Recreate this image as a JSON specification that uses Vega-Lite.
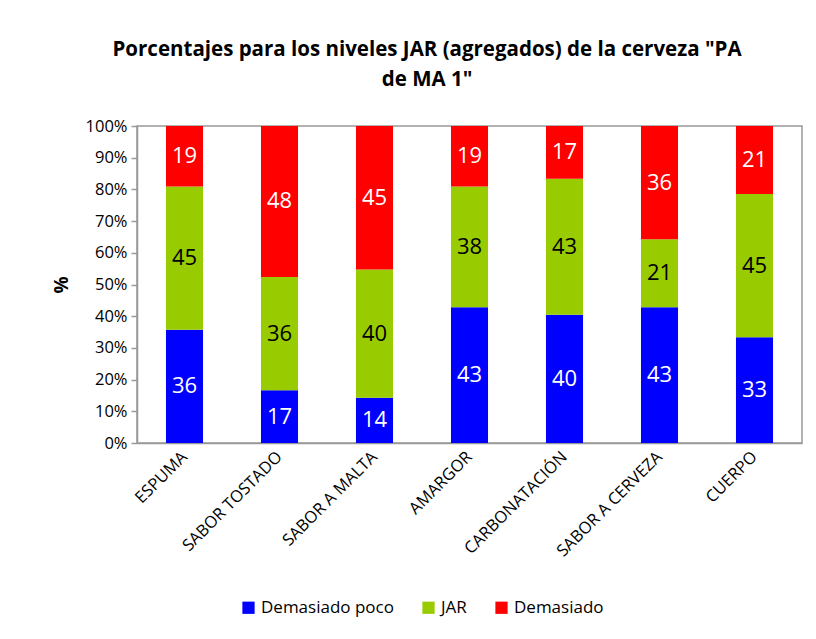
{
  "$schema": "https://vega.github.io/schema/vega-lite/v6.json",
  "width": 665,
  "height": 317,
  "autosize": {"type": "none"},
  "padding": {"left": 137, "top": 126, "right": 14, "bottom": 196},
  "background": "white",
  "title": {
    "text": ["Porcentajes para los niveles JAR (agregados) de la cerveza \"PA", "de MA 1\""],
    "font": "Open Sans",
    "fontSize": 20.5,
    "fontWeight": "bold",
    "color": "#000000",
    "anchor": "middle",
    "frame": "bounds",
    "lineHeight": 30,
    "offset": 28
  },
  "data": {
    "values": [
      {"attr": "ESPUMA", "cat": "Demasiado poco", "k": 1, "pct": 35.71},
      {"attr": "ESPUMA", "cat": "JAR", "k": 2, "pct": 45.24},
      {"attr": "ESPUMA", "cat": "Demasiado", "k": 3, "pct": 19.05},
      {"attr": "SABOR TOSTADO", "cat": "Demasiado poco", "k": 1, "pct": 16.67},
      {"attr": "SABOR TOSTADO", "cat": "JAR", "k": 2, "pct": 35.71},
      {"attr": "SABOR TOSTADO", "cat": "Demasiado", "k": 3, "pct": 47.62},
      {"attr": "SABOR A MALTA", "cat": "Demasiado poco", "k": 1, "pct": 14.29},
      {"attr": "SABOR A MALTA", "cat": "JAR", "k": 2, "pct": 40.48},
      {"attr": "SABOR A MALTA", "cat": "Demasiado", "k": 3, "pct": 45.24},
      {"attr": "AMARGOR", "cat": "Demasiado poco", "k": 1, "pct": 42.86},
      {"attr": "AMARGOR", "cat": "JAR", "k": 2, "pct": 38.1},
      {"attr": "AMARGOR", "cat": "Demasiado", "k": 3, "pct": 19.05},
      {"attr": "CARBONATACIÓN", "cat": "Demasiado poco", "k": 1, "pct": 40.48},
      {"attr": "CARBONATACIÓN", "cat": "JAR", "k": 2, "pct": 42.86},
      {"attr": "CARBONATACIÓN", "cat": "Demasiado", "k": 3, "pct": 16.67},
      {"attr": "SABOR A CERVEZA", "cat": "Demasiado poco", "k": 1, "pct": 42.86},
      {"attr": "SABOR A CERVEZA", "cat": "JAR", "k": 2, "pct": 21.43},
      {"attr": "SABOR A CERVEZA", "cat": "Demasiado", "k": 3, "pct": 35.71},
      {"attr": "CUERPO", "cat": "Demasiado poco", "k": 1, "pct": 33.33},
      {"attr": "CUERPO", "cat": "JAR", "k": 2, "pct": 45.24},
      {"attr": "CUERPO", "cat": "Demasiado", "k": 3, "pct": 21.43}
    ]
  },
  "transform": [
    {"stack": "pct", "groupby": ["attr"], "sort": [{"field": "k", "order": "ascending"}], "offset": "normalize", "as": ["y0", "y1"]},
    {"calculate": "(datum.y0 + datum.y1) / 2", "as": "ymid"}
  ],
  "encoding": {
    "x": {
      "field": "attr",
      "type": "nominal",
      "sort": null,
      "scale": {"paddingInner": 0.61, "paddingOuter": 0.305},
      "axis": {
        "title": null,
        "labelAngle": -45,
        "labelAlign": "right",
        "labelBaseline": "middle",
        "labelFont": "Open Sans",
        "labelFontSize": 16.5,
        "labelColor": "#000000",
        "labelPadding": 11,
        "labelOverlap": false,
        "ticks": false,
        "domainColor": "#999999",
        "domainWidth": 1.5
      }
    }
  },
  "layer": [
    {
      "mark": {"type": "bar"},
      "encoding": {
        "y": {
          "field": "y0",
          "type": "quantitative",
          "scale": {"domain": [0, 1]},
          "axis": {
            "title": "%",
            "titleFont": "Open Sans",
            "titleFontSize": 19,
            "titleFontWeight": "bold",
            "titleColor": "#000000",
            "titlePadding": 14,
            "format": ".0%",
            "values": [0, 0.1, 0.2, 0.3, 0.4, 0.5, 0.6, 0.7, 0.8, 0.9, 1],
            "labelOverlap": false,
            "grid": false,
            "labelFont": "Open Sans",
            "labelFontSize": 16.5,
            "labelColor": "#000000",
            "labelPadding": 4,
            "tickColor": "#999999",
            "tickSize": 6,
            "tickWidth": 1.5,
            "domainColor": "#999999",
            "domainWidth": 1.5
          }
        },
        "y2": {"field": "y1"},
        "color": {
          "field": "cat",
          "type": "nominal",
          "sort": ["Demasiado poco", "JAR", "Demasiado"],
          "scale": {"domain": ["Demasiado poco", "JAR", "Demasiado"], "range": ["#0000FF", "#99CC00", "#FF0000"]},
          "legend": {
            "title": null,
            "orient": "none",
            "legendX": 103,
            "legendY": 473,
            "direction": "horizontal",
            "symbolType": "square",
            "symbolSize": 150,
            "symbolStrokeWidth": 0,
            "labelFont": "Open Sans",
            "labelFontSize": 17,
            "labelColor": "#000000",
            "columnPadding": 26,
            "symbolOffset": 0
          }
        }
      }
    },
    {
      "mark": {"type": "text", "font": "Open Sans", "fontSize": 22, "baseline": "middle", "align": "center"},
      "encoding": {
        "y": {
          "field": "ymid",
          "type": "quantitative",
          "axis": {
            "title": "%",
            "titleFont": "Open Sans",
            "titleFontSize": 19,
            "titleFontWeight": "bold",
            "titleColor": "#000000",
            "titlePadding": 14,
            "format": ".0%",
            "values": [0, 0.1, 0.2, 0.3, 0.4, 0.5, 0.6, 0.7, 0.8, 0.9, 1],
            "labelOverlap": false,
            "grid": false,
            "labelFont": "Open Sans",
            "labelFontSize": 16.5,
            "labelColor": "#000000",
            "labelPadding": 4,
            "tickColor": "#999999",
            "tickSize": 6,
            "tickWidth": 1.5,
            "domainColor": "#999999",
            "domainWidth": 1.5
          }
        },
        "text": {"field": "pct", "type": "quantitative", "format": ".0f"},
        "color": {
          "condition": {"test": "datum.cat === 'JAR'", "value": "#000000"},
          "value": "#FFFFFF"
        }
      }
    }
  ],
  "config": {
    "view": {"stroke": "#999999", "strokeWidth": 1.5}
  }
}
